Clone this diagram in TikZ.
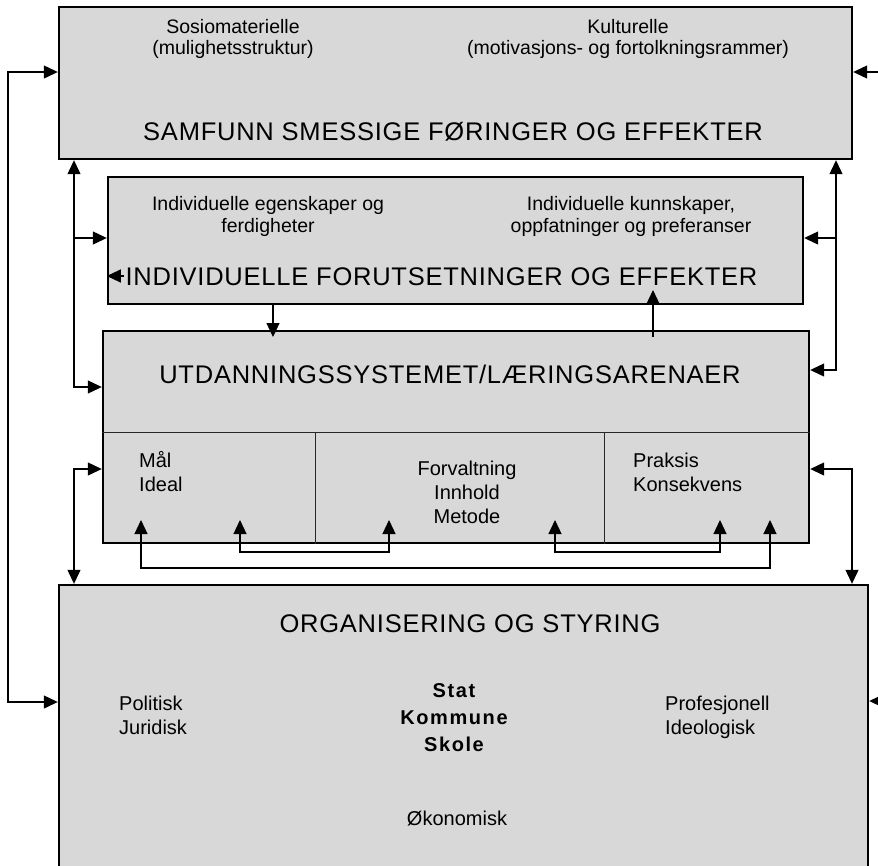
\documentclass[tikz,border=0pt]{standalone}
\usepackage{fontspec}
\setmainfont{Liberation Sans}
\newfontfamily\spacedfont[LetterSpace=3]{Liberation Sans}
\newfontfamily\spacedbold[LetterSpace=8]{Liberation Sans}
\definecolor{boxgrey}{RGB}{216,216,216}
\usetikzlibrary{arrows.meta,positioning,calc}

\begin{document}
\begin{tikzpicture}[x=1pt, y=-1pt,
    >={Triangle[length=14pt,width=13pt]},
    box/.style={draw=black, line width=2.4pt, fill=boxgrey, inner sep=0pt},
    bigtext/.style={font=\spacedfont\fontsize{25.5}{30}\selectfont, inner sep=0pt, anchor=base},
    toptext/.style={font=\fontsize{19.5}{21.5}\selectfont, align=center, inner sep=0pt, anchor=north},
    celltext/.style={font=\fontsize{20}{24}\selectfont, inner sep=0pt},
    boldtext/.style={font=\spacedbold\bfseries\fontsize{20}{27}\selectfont, align=center, inner sep=0pt, anchor=north},
    link/.style={line width=1.2pt},
    divider/.style={line width=1pt, black!85}]
    \path[use as bounding box] (0,0) rectangle (878,865);
    \clip (0,0) rectangle (878,865);

    % boxes
    \node[box, minimum width=793pt, minimum height=152pt] (samf) at (455.5,83) {};
    \node[box, minimum width=695pt, minimum height=127pt] (indiv) at (455.5,240.5) {};
    \node[box, minimum width=706pt, minimum height=212pt] (utd) at (456,437) {};
    \node[box, minimum width=809pt, minimum height=295pt] (org) at (463.5,732.5) {};

    % cells of the education box
    \coordinate (dv0) at (0,432);
    \coordinate (dv1) at (315,432);
    \coordinate (dv2) at (604,432);
    \draw[divider] (utd.west |- dv0) -- (utd.east |- dv0);
    \draw[divider] (dv1) -- (utd.south -| dv1);
    \draw[divider] (dv2) -- (utd.south -| dv2);

    % texts
    \node[toptext] (sosio) at (233,18) {\strut Sosiomaterielle\\(mulighetsstruktur)};
    \node[toptext] (kult) at (628,18) {\strut Kulturelle\\(motivasjons- og fortolkningsrammer)};
    \node[bigtext] (samftitle) at (453,140) {SAMFUNN SMESSIGE FØRINGER OG EFFEKTER};

    \node[toptext] (egensk) at (268,195.6) {\strut Individuelle egenskaper og\\ferdigheter};
    \node[toptext] (kunnsk) at (631,195.6) {\strut Individuelle kunnskaper,\\oppfatninger og preferanser};
    \node[bigtext] (indivtitle) at (441.5,285) {INDIVIDUELLE FORUTSETNINGER OG EFFEKTER};

    \node[bigtext] (utdtitle) at (450,383) {UTDANNINGSSYSTEMET/LÆRINGSARENAER};
    \node[celltext, align=left, anchor=north west] (maal) at (139,450.2) {\strut Mål\\Ideal};
    \node[celltext, align=center, anchor=north] (forv) at (467,458.2) {\strut Forvaltning\\Innhold\\Metode};
    \node[celltext, align=left, anchor=north west] (praks) at (633,450.2) {\strut Praksis\\Konsekvens};

    \node[bigtext] (orgtitle) at (470,632) {ORGANISERING OG STYRING};
    \node[celltext, align=left, anchor=north west] (polit) at (119,693.2) {\strut Politisk\\Juridisk};
    \node[boldtext] (stat) at (454,678.1) {\strut Stat\\Kommune\\Skole};
    \node[celltext, align=left, anchor=north west] (prof) at (665,693.2) {\strut Profesjonell\\Ideologisk};
    \node[celltext, anchor=base] (okon) at (457,825) {Økonomisk};

    % outer feedback
    \coordinate (lo1) at (8,72);
    \coordinate (lo2) at (8,702);
    \draw[link, <->] (samf.west |- lo1) -- (lo1) -- (lo2) -- (org.west |- lo2);
    \coordinate (ro1) at (878,72);
    \coordinate (ro2) at (878,701);
    \draw[link, ->] (ro1) -- (samf.east |- ro1);
    \draw[link, ->] (ro2) -- (org.east |- ro2);

    % upper side links
    \coordinate (li1) at (74,238);
    \coordinate (li2) at (74,387);
    \draw[link, <->] (samf.south -| li1) -- (li2) -- (utd.west |- li2);
    \draw[link, ->] (li1) -- (indiv.west |- li1);
    \coordinate (ri1) at (836,238);
    \coordinate (ri2) at (836,370);
    \draw[link, <->] (samf.south -| ri1) -- (ri2) -- (utd.east |- ri2);
    \draw[link, ->] (ri1) -- (indiv.east |- ri1);
    \coordinate (st) at (124,276);
    \draw[link, ->] (st) -- (indiv.west |- st);

    % between individual and education
    \coordinate (d1) at (273,337);
    \draw[link, ->] (indiv.south -| d1) -- (d1);
    \coordinate (u0) at (653,337);
    \coordinate (u1) at (653,290);
    \draw[link, ->] (u0) -- (u1);

    % lower side links
    \coordinate (ll) at (74,469);
    \draw[link, <->] (utd.west |- ll) -- (ll) -- (org.north -| ll);
    \coordinate (rl) at (852,469);
    \draw[link, <->] (utd.east |- rl) -- (rl) -- (org.north -| rl);

    % loops under the cells
    \coordinate (m1) at (141,520);
    \coordinate (m2) at (770,520);
    \draw[link, <->] (m1) -- ++(0,48) -| (m2);
    \coordinate (a1) at (240,520);
    \coordinate (a2) at (389,520);
    \draw[link, <->] (a1) -- ++(0,32) -| (a2);
    \coordinate (b1) at (555,520);
    \coordinate (b2) at (720,520);
    \draw[link, <->] (b1) -- ++(0,32) -| (b2);
\end{tikzpicture}
\end{document}
